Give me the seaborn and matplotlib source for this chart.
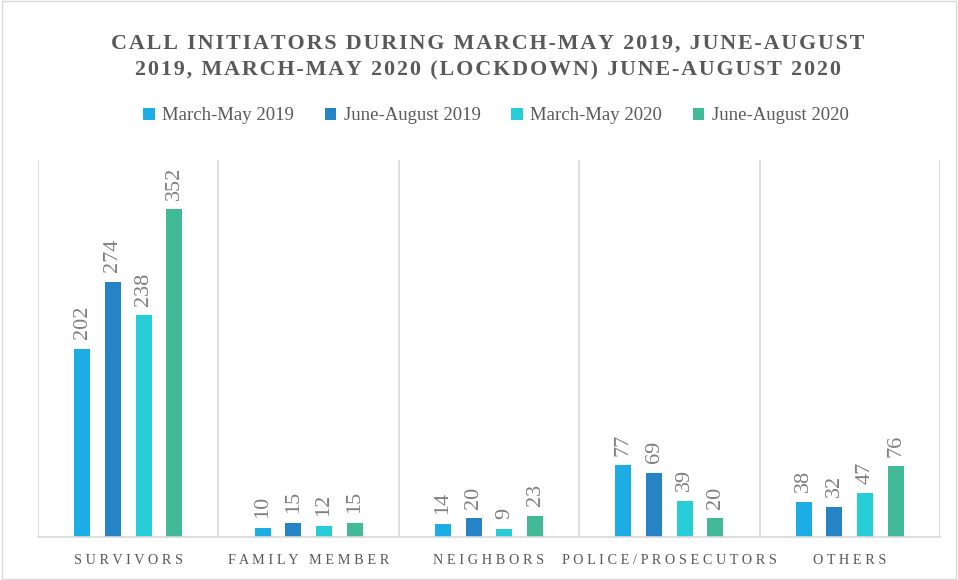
import matplotlib
matplotlib.use("Agg")
import matplotlib.pyplot as plt
import seaborn as sns
import pandas as pd
from matplotlib.patches import Rectangle, Patch

categories = ["SURVIVORS", "FAMILY MEMBER", "NEIGHBORS", "POLICE/PROSECUTORS", "OTHERS"]
periods = ["March-May 2019", "June-August 2019", "March-May 2020", "June-August 2020"]
mar_may_2019 = [202, 10, 14, 77, 38]
jun_aug_2019 = [274, 15, 20, 69, 32]
mar_may_2020 = [238, 12, 9, 39, 47]
jun_aug_2020 = [352, 15, 23, 20, 76]
colors = ["#1CADE4", "#2683C6", "#27CED7", "#42BA97"]

series = [mar_may_2019, jun_aug_2019, mar_may_2020, jun_aug_2020]
rows = []
for p, vals in zip(periods, series):
    for c, v in zip(categories, vals):
        rows.append({"category": c, "period": p, "value": v})
df = pd.DataFrame(rows)

sns.set_theme(style="white")
plt.rcParams['font.family'] = ['Liberation Serif', 'DejaVu Serif']

fig = plt.figure(figsize=(9.58, 5.8), dpi=100)
ax = fig.add_axes([38/958, 43/580, (940-38)/958, (537-160)/580])

sns.barplot(data=df, x="category", y="value", hue="period", order=categories,
            hue_order=periods, palette=colors, width=0.68, gap=0.48,
            ax=ax, legend=False, saturation=1, edgecolor="none")

ax.set_ylim(0, 405)
ax.set_xlim(-0.5, len(categories) - 0.5)
ax.set_yticks([])
ax.set_xlabel("")
ax.set_ylabel("")

for s in ["top", "left", "right"]:
    ax.spines[s].set_visible(False)
ax.spines["bottom"].set_color("#d9d9d9")
ax.spines["bottom"].set_linewidth(1.2)

for b in [i - 0.5 for i in range(len(categories) + 1)]:
    ax.axvline(b, color="#d9d9d9", lw=1.2, zorder=0)

def spaced(s):
    return " ".join(list(s))

ax.set_xticks(range(len(categories)))
ax.set_xticklabels([spaced(c) for c in categories], fontsize=10.3, color="#595959")
ax.tick_params(axis="x", length=0, pad=12)

for cont in ax.containers:
    ax.bar_label(cont, rotation=90, padding=7, fontsize=16, color="#7f7f7f")

title = ("CALL INITIATORS DURING MARCH-MAY 2019, JUNE-AUGUST\n"
         "2019, MARCH-MAY 2020 (LOCKDOWN) JUNE-AUGUST 2020")
hs = "\u200a"
title_sp = "\n".join(hs.join(list(line)) for line in title.split("\n"))
fig.text(488/958, 1 - 57/580, title_sp, ha="center", va="center", fontsize=15.8,
         fontweight="bold", color="#595959", linespacing=1.45)

handles = [Patch(facecolor=c, edgecolor="none") for c in colors]
fig.legend(handles, periods, loc="center", bbox_to_anchor=(496/958, 1 - 116/580),
           ncol=4, frameon=False, fontsize=13.5, handlelength=0.6, handleheight=0.6,
           handletextpad=0.4, columnspacing=1.65, labelcolor="#595959")

fig.patches.append(Rectangle((0.002, 0.002), 0.996, 0.996, transform=fig.transFigure,
                             fill=False, edgecolor="#d9d9d9", lw=1))

fig.savefig("out.png", dpi=100)
